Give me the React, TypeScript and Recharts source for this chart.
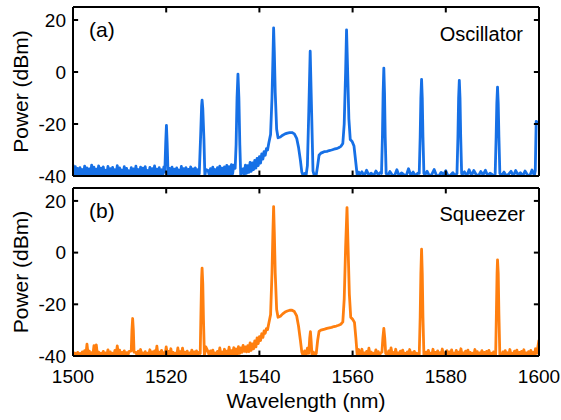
import React from 'react';
import { LineChart, Line, XAxis, YAxis, ReferenceLine } from 'recharts';

const FONT = '"Liberation Sans", Arial, Helvetica, sans-serif';

const xTicks = [1500, 1520, 1540, 1560, 1580, 1600];
const yTicks = [-40, -20, 0, 20];
const X_DOMAIN: [number, number] = [1500, 1600];
const Y_DOMAIN: [number, number] = [-40, 25];

// Noise-floor segments: [start wavelength (nm), step (nm), read power values (dBm)]
const oscillatorFloor: [number, number, number[]][] = [
  [1500, 0.25, [
    -35.6, -39.8, -36.4, -39.5, -37.1, -40, -36.8, -39.6, -37.5, -39.9, -36.2, -39.4, -36.9, -40, -37.3, -39.7, -35.8, -39.5, -36.6, -40,
    -37.4, -39.6, -36.1, -39.9, -37.0, -39.4, -36.5, -40, -37.8, -39.5, -36.3, -39.8, -37.2, -40, -36.7, -39.6, -37.6, -39.3, -36.0, -39.9,
    -36.9, -39.5, -37.7, -40, -36.4, -39.7, -37.1, -39.4, -38.0, -40, -36.8, -39.6, -37.3, -39.9, -36.2, -39.5, -37.5, -40, -36.6, -39.8,
    -37.0, -39.4, -36.4, -40, -37.9, -39.6, -36.7, -39.8, -37.2, -40, -36.1, -39.5, -37.4, -39.9, -36.8, -39.6, -37.6, -40, -36.5]],
  [1520.5, 0.25, [
    -39.6, -37.1, -40, -36.6, -39.5, -37.4, -39.9, -36.9, -39.4, -37.7, -40, -36.3, -39.6, -37.2, -39.8, -36.8, -40, -37.5, -39.5, -36.5,
    -39.9, -37.3, -39.6, -36.9, -40, -37.6, -39.7]],
  [1529, 0.25, [
    -37.9, -39.8, -37.2, -40, -36.6, -39.5, -37.5, -39.9, -36.8, -39.4, -36.2, -40, -37.0, -39.6, -36.5, -39.8, -35.9, -39.3, -36.4, -39.7,
    -35.6, -39.2, -35.8]],
  [1561.5, 0.5, [-39.6, -38.4, -40, -37.8, -39.7, -38.9, -40, -38.1, -39.5, -38.6]],
  [1567.5, 0.5, [-40, -38.3, -39.6, -39.9, -37.6, -40, -38.8, -39.5, -40, -37.2, -39.7, -38.5, -40, -38.9]],
  [1575.5, 0.5, [-39.6, -38.2, -40, -39.4, -37.5, -39.8, -40, -38.6, -39.5, -38.0, -40, -39.7, -38.7, -40]],
  [1583.5, 0.5, [-39.5, -38.4, -40, -37.6, -39.8, -37.9, -39.4, -40, -38.3, -39.6, -37.8, -40, -38.9, -39.5, -40]],
  [1592, 0.5, [-39.7, -38.5, -40, -39.3, -38.2, -40, -37.9, -39.6, -38.7, -40, -38.1, -39.5, -40, -37.7, -39.8]],
];

// Oscillator: comb lines, pump wing and plateaus [wavelength (nm), power (dBm)]
const oscillatorFeatures: [number, number][] = [
  [1519.7, -38.5], [1519.9, -27], [1520.05, -20.5], [1520.2, -27], [1520.4, -39],
  [1527.1, -39], [1527.4, -24], [1527.6, -13], [1527.7, -10.8], [1527.85, -14], [1528.1, -26], [1528.3, -40], [1528.5, -37.5],
  [1534.8, -37], [1535.0, -28], [1535.2, -10], [1535.4, -0.8], [1535.6, -10], [1535.8, -28], [1536.0, -40], [1536.3, -37.5],
  [1536.5, -37.2], [1536.75, -39.5], [1537, -35.8], [1537.25, -39.0], [1537.5, -36.0], [1537.75, -38.6], [1538, -34.8],
  [1538.25, -38.2], [1538.5, -35.0], [1538.75, -37.5], [1539, -34.0], [1539.25, -37.0], [1539.5, -33.2], [1539.75, -36.0],
  [1540, -32.6], [1540.25, -35.0], [1540.5, -31.5], [1540.75, -33.5], [1541, -30.6], [1541.25, -32.0], [1541.5, -29.5],
  [1541.75, -30.0], [1542, -27.5], [1542.4, -24],
  [1542.7, -10], [1542.9, 5], [1543.05, 17.0], [1543.2, 8], [1543.4, -8], [1543.7, -22],
  [1544, -25.3], [1544.5, -25.0], [1545, -24.3], [1545.5, -23.8], [1546, -23.5], [1546.5, -23.3], [1547, -23.3],
  [1547.5, -23.8], [1548, -25.5], [1548.4, -29], [1548.8, -34], [1549.1, -38.5], [1549.4, -40], [1549.7, -39], [1550.0, -40],
  [1550.3, -36], [1550.6, -15], [1550.9, 8.0], [1551.2, -15], [1551.5, -38], [1551.8, -40], [1552.2, -39.5],
  [1552.5, -36], [1552.8, -32], [1553.2, -31.2], [1553.6, -30.9], [1554, -30.6], [1554.5, -30.5], [1555, -30.2],
  [1555.5, -30.0], [1556, -29.7], [1556.5, -29.5], [1557, -29.1], [1557.5, -28.6], [1557.9, -27.5],
  [1558.2, -20], [1558.5, 0], [1558.7, 16.2], [1558.9, 3], [1559.2, -18], [1559.5, -26], [1559.9, -26.7],
  [1560.3, -28.5], [1560.7, -35], [1561.0, -40], [1561.3, -38.5],
  [1566.2, -39], [1566.4, -25], [1566.55, -8], [1566.7, 1.5], [1566.85, -8], [1567.0, -25], [1567.2, -39],
  [1574.3, -39], [1574.5, -25], [1574.65, -10], [1574.8, -2.8], [1574.95, -10], [1575.1, -25], [1575.3, -39],
  [1582.4, -39], [1582.6, -25], [1582.75, -10], [1582.9, -3.2], [1583.05, -10], [1583.2, -25], [1583.4, -39],
  [1590.6, -39], [1590.8, -25], [1590.95, -12], [1591.1, -5.8], [1591.25, -12], [1591.4, -25], [1591.6, -39],
  [1599.2, -38], [1599.4, -19], [1600, -20],
];

const squeezerFloor: [number, number, number[]][] = [
  [1500, 0.25, [
    -38.3, -39.9, -38.9, -40, -38.6, -39.7, -39.0, -40, -38.4, -39.6,
    -37.9, -40, -35.4, -39.5, -38.1, -39.8, -38.7, -40, -36.0, -39.4,
    -35.7, -39.9, -38.5, -39.6, -38.9, -40, -38.2, -39.5, -38.8, -40,
    -37.6, -39.7, -38.4, -39.9, -38.9, -40, -37.8, -39.5, -36.1, -39.8,
    -37.7, -40, -38.6, -39.6, -38.0, -39.9, -38.7, -40, -38.3]],
  [1513.5, 0.25, [
    -38.6, -39.8, -38.1, -40, -37.5, -39.6, -38.8, -39.9, -38.3, -40,
    -38.9, -39.5, -37.6, -40, -38.4, -39.7, -38.0, -39.9, -36.2, -40,
    -38.5, -39.6, -37.8, -39.8, -38.7, -40, -36.5, -39.5, -38.2, -39.9,
    -37.2, -40, -38.6, -39.6, -38.9, -40, -36.9, -39.7, -38.3, -39.9,
    -37.0, -40, -38.5, -39.5, -38.1, -39.8, -38.8, -40, -37.7, -39.6,
    -38.4, -39.9, -38.0, -40, -38.6]],
  [1529, 0.25, [
    -38.4, -39.9, -38.0, -40, -37.7, -39.6, -38.8, -39.8, -38.2, -40,
    -36.9, -39.5, -38.5, -39.9, -37.4, -40, -38.1, -39.6, -36.6, -39.8,
    -37.9, -39.4, -36.8, -39.7, -37.3, -39.2, -36.4, -39.0, -36.9, -38.6,
    -35.9, -38.2, -36.5]],
  [1561.5, 0.25, [
    -38.6, -39.9, -37.4, -40, -38.8, -39.6, -38.2, -40, -37.0, -39.7,
    -38.5, -39.9, -38.9, -40, -37.6, -39.5, -38.3, -40, -38.8]],
  [1567.5, 0.25, [
    -39.6, -38.0, -40, -36.9, -39.5, -38.6, -39.9, -37.4, -40, -38.8,
    -39.6, -38.1, -40, -37.7, -39.8, -38.9, -40, -38.4, -39.5, -37.5,
    -39.9, -38.7, -40, -38.2, -39.6, -38.9, -40]],
  [1575.5, 0.25, [
    -39.8, -38.5, -40, -37.8, -39.6, -38.9, -40, -37.4, -39.7, -38.6,
    -39.9, -38.0, -40, -38.7, -39.5, -37.3, -39.9, -38.8, -40, -37.9,
    -39.6, -38.4, -40, -37.6, -39.8, -38.9, -39.5, -37.8, -40, -38.5,
    -39.7, -37.2, -40, -38.8, -39.6, -38.1, -39.9, -37.7, -40, -38.6,
    -39.5, -38.9, -40, -37.5, -39.8, -38.3, -40, -38.8, -39.6, -37.9,
    -40, -38.6, -39.7, -38.2, -40, -37.8, -39.5, -38.9, -40, -38.4,
    -39.7]],
  [1592, 0.25, [
    -39.9, -38.4, -40, -37.9, -39.6, -38.7, -40, -37.5, -39.8, -38.9,
    -39.5, -38.1, -40, -37.7, -39.7, -38.6, -40, -38.2, -39.6, -37.6,
    -39.9, -38.8, -40, -38.3, -39.5, -37.8, -40, -38.6, -39.7, -37.2,
    -39.0, -36.5]],
];

const squeezerFeatures: [number, number][] = [
  [1512.5, -38], [1512.65, -30], [1512.8, -25.5], [1512.95, -30], [1513.1, -38.5],
  [1527.3, -39], [1527.45, -24], [1527.6, -10], [1527.7, -6], [1527.85, -12], [1528.0, -26], [1528.2, -40], [1528.5, -36.5],
  [1537.25, -38.4], [1537.5, -36.0], [1537.75, -38.3], [1538, -34.9], [1538.25, -37.8], [1538.5, -35.3], [1538.75, -37.2],
  [1539, -34.2], [1539.25, -36.5], [1539.5, -33.0], [1539.75, -35.2], [1540, -32.5], [1540.25, -34.0], [1540.5, -31.4],
  [1540.75, -32.8], [1541, -30.3], [1541.25, -31.2], [1541.5, -29.4], [1541.75, -29.8], [1542, -27.5], [1542.4, -24],
  [1542.7, -8], [1542.9, 8], [1543.05, 17.8], [1543.2, 8], [1543.4, -8], [1543.7, -22],
  [1544, -25.0], [1544.5, -24.6], [1545, -23.7], [1545.5, -23.0], [1546, -22.6], [1546.5, -22.3], [1547, -22.3],
  [1547.5, -22.8], [1548, -24.5], [1548.4, -28.5], [1548.8, -34], [1549.1, -38.5], [1549.4, -40], [1549.7, -38],
  [1550.0, -40], [1550.3, -37], [1550.6, -39], [1550.8, -33], [1550.95, -30.6], [1551.1, -34], [1551.3, -40],
  [1551.6, -38.5], [1551.9, -40], [1552.2, -39], [1552.5, -34], [1552.8, -30.5], [1553.2, -30.0], [1553.6, -29.8],
  [1554, -29.6], [1554.5, -29.3], [1555, -29.1], [1555.5, -28.9], [1556, -28.6], [1556.5, -28.4], [1557, -28.1],
  [1557.5, -27.7], [1557.9, -26.8], [1558.2, -18], [1558.5, 2], [1558.8, 17.4], [1559.0, 4], [1559.3, -16],
  [1559.6, -25], [1560.0, -25.8], [1560.4, -27], [1560.7, -33], [1561.0, -40], [1561.3, -37.5],
  [1566.3, -38.5], [1566.5, -33], [1566.7, -29.3], [1566.9, -33], [1567.1, -39],
  [1574.3, -39.5], [1574.5, -25], [1574.65, -8], [1574.8, 1.3], [1574.95, -8], [1575.1, -25], [1575.3, -39.5],
  [1590.7, -39.5], [1590.85, -24], [1591.0, -8], [1591.1, -2.8], [1591.25, -8], [1591.4, -24], [1591.6, -40],
  [1600, -33.8],
];

type Pt = { wl: number; p: number };

function buildSpectrum(floor: [number, number, number[]][], features: [number, number][]): Pt[] {
  const pts: Pt[] = [];
  floor.forEach(([start, step, vals]) => vals.forEach((p, i) => pts.push({ wl: +(start + i * step).toFixed(3), p })));
  features.forEach(([wl, p]) => pts.push({ wl, p }));
  pts.sort((a, b) => a.wl - b.wl);
  return pts;
}

const oscillatorData = buildSpectrum(oscillatorFloor, oscillatorFeatures);
const squeezerData = buildSpectrum(squeezerFloor, squeezerFeatures);

const tickFont = { fill: '#000', fontSize: 19, fontFamily: FONT };
const FRAME = { stroke: '#000', strokeWidth: 2 };
const TICK_X_LEN = 1.1; // nm, inward tick length on left/right edges
const TICK_Y_LEN = 2.1; // dB, inward tick length on top/bottom edges

function frameAndTicks() {
  const out: React.ReactNode[] = [];
  const [x0, x1] = X_DOMAIN;
  const [y0, y1] = Y_DOMAIN;
  xTicks.filter((t) => t > x0 && t < x1).forEach((t) => {
    out.push(<ReferenceLine key={`xb${t}`} segment={[{ x: t, y: y0 }, { x: t, y: y0 + TICK_Y_LEN }]} {...FRAME} ifOverflow="visible" />);
    out.push(<ReferenceLine key={`xt${t}`} segment={[{ x: t, y: y1 }, { x: t, y: y1 - TICK_Y_LEN }]} {...FRAME} ifOverflow="visible" />);
  });
  yTicks.filter((t) => t > y0 && t < y1).forEach((t) => {
    out.push(<ReferenceLine key={`yl${t}`} segment={[{ x: x0, y: t }, { x: x0 + TICK_X_LEN, y: t }]} {...FRAME} ifOverflow="visible" />);
    out.push(<ReferenceLine key={`yr${t}`} segment={[{ x: x1, y: t }, { x: x1 - TICK_X_LEN, y: t }]} {...FRAME} ifOverflow="visible" />);
  });
  out.push(<ReferenceLine key="fl" x={x0} {...FRAME} ifOverflow="visible" />);
  out.push(<ReferenceLine key="fr" x={x1} {...FRAME} ifOverflow="visible" />);
  out.push(<ReferenceLine key="fb" y={y0} {...FRAME} ifOverflow="visible" />);
  out.push(<ReferenceLine key="ft" y={y1} {...FRAME} ifOverflow="visible" />);
  return out;
}

function Panel(props: {
  data: Pt[];
  color: string;
  marginTop: number;
  marginBottom: number;
  bottomAxisHeight: number;
  showXLabels: boolean;
}) {
  const { data, color, marginTop, marginBottom, bottomAxisHeight, showXLabels } = props;
  return (
    <div style={{ position: 'absolute', left: 0, top: 0 }}>
      <LineChart
        width={561}
        height={420}
        data={data}
        margin={{ top: marginTop, right: 22, bottom: marginBottom, left: 0 }}
      >
        <XAxis
          type="number"
          dataKey="wl"
          domain={X_DOMAIN}
          ticks={xTicks}
          interval={0}
          allowDataOverflow
          orientation="bottom"
          height={bottomAxisHeight}
          axisLine={false}
          tickLine={false}
          tickSize={0}
          tickMargin={14}
          tick={showXLabels ? tickFont : false}
        />
        <YAxis
          type="number"
          domain={Y_DOMAIN}
          ticks={yTicks}
          interval={0}
          allowDataOverflow
          orientation="left"
          width={73}
          axisLine={false}
          tickLine={false}
          tickSize={0}
          tickMargin={7}
          tick={tickFont}
        />
        <Line
          type="linear"
          dataKey="p"
          stroke={color}
          strokeWidth={2.8}
          strokeLinejoin="round"
          dot={false}
          activeDot={false}
          isAnimationActive={false}
        />
        {frameAndTicks()}
      </LineChart>
    </div>
  );
}

export default function App() {
  const textStyle = { fontFamily: FONT, fill: '#000' };
  return (
    <div style={{ position: 'absolute', left: 0, top: 0, width: 561, height: 420, background: '#fff' }}>
      <Panel data={oscillatorData} color="#1670e6" marginTop={7} marginBottom={244} bottomAxisHeight={0} showXLabels={false} />
      <Panel data={squeezerData} color="#ff7f0f" marginTop={188} marginBottom={0} bottomAxisHeight={64} showXLabels={true} />
      <svg width={561} height={420} style={{ position: 'absolute', left: 0, top: 0, pointerEvents: 'none' }}>
        <text x={89} y={37} fontSize={21} {...textStyle}>(a)</text>
        <text x={523} y={41} fontSize={20} textAnchor="end" {...textStyle}>Oscillator</text>
        <text x={89} y={218} fontSize={21} {...textStyle}>(b)</text>
        <text x={525} y={221} fontSize={20} textAnchor="end" {...textStyle}>Squeezer</text>
        <text x={28} y={91.5} fontSize={21} textAnchor="middle" transform="rotate(-90 28 91.5)" {...textStyle}>Power (dBm)</text>
        <text x={28} y={272} fontSize={21} textAnchor="middle" transform="rotate(-90 28 272)" {...textStyle}>Power (dBm)</text>
        <text x={306} y={408} fontSize={21} textAnchor="middle" {...textStyle}>Wavelength (nm)</text>
      </svg>
    </div>
  );
}
